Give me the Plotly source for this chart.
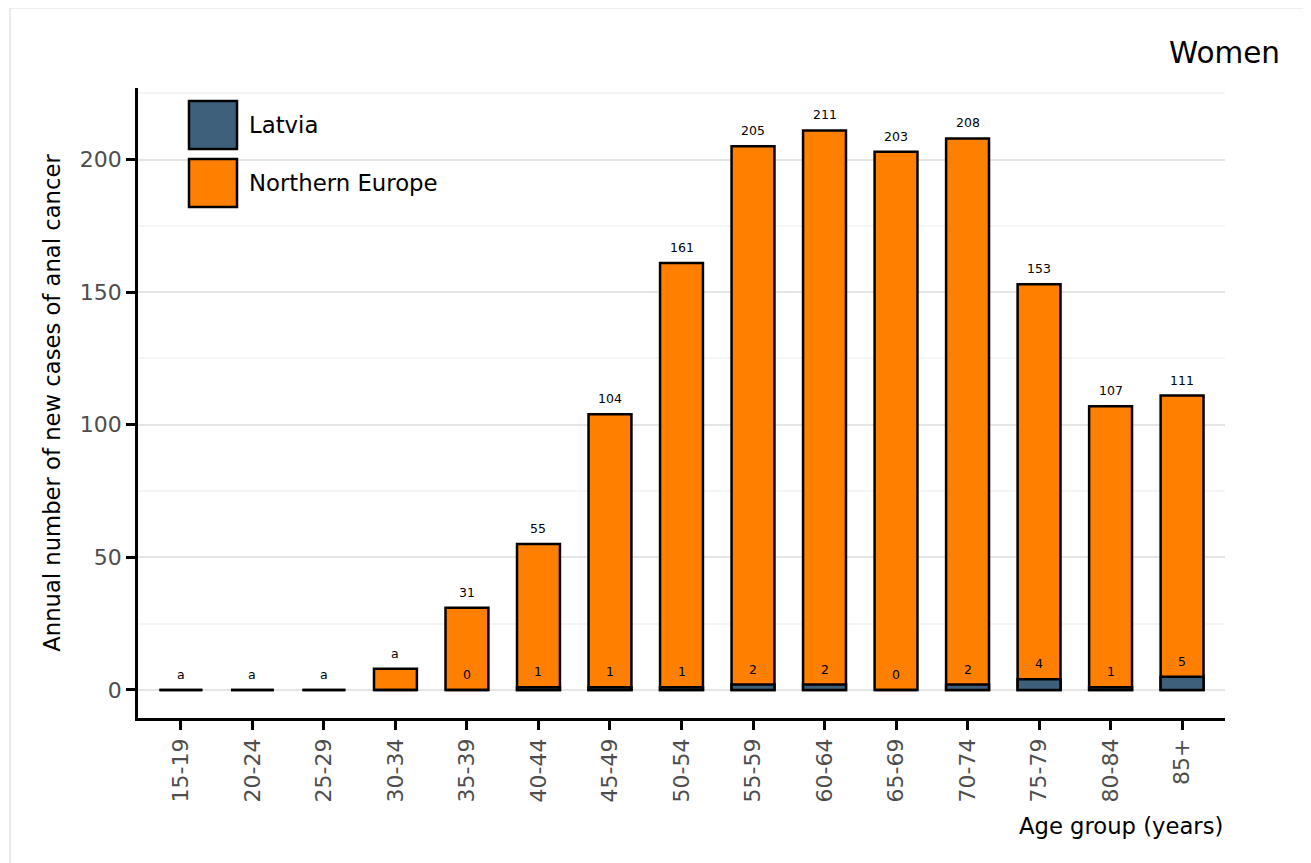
import plotly.graph_objects as go

age_groups = ["15-19", "20-24", "25-29", "30-34", "35-39", "40-44", "45-49", "50-54",
              "55-59", "60-64", "65-69", "70-74", "75-79", "80-84", "85+"]
northern_europe = [0, 0, 0, 8, 31, 55, 104, 161, 205, 211, 203, 208, 153, 107, 111]
northern_europe_labels = ["a", "a", "a", "a", "31", "55", "104", "161", "205", "211", "203", "208", "153", "107", "111"]
latvia = [0, 0, 0, 0, 0, 1, 1, 1, 2, 2, 0, 2, 4, 1, 5]
latvia_labels = ["", "", "", "", "0", "1", "1", "1", "2", "2", "0", "2", "4", "1", "5"]
series_names = ["Latvia", "Northern Europe"]
series_colors = ["#3e607b", "#ff7f00"]

FONT = "DejaVu Sans"
W, H = 1311, 863
ML, MT, PW, PH = 130, 80, 1087, 630
MR, MB = W - ML - PW, H - MT - PH


def px(x):
    return (x - ML) / PW


def py(y):
    return 1 - (y - MT) / PH


fig = go.Figure()
fig.add_trace(go.Bar(x=age_groups, y=northern_europe, name=series_names[1],
                     marker=dict(color=series_colors[1], line=dict(color="black", width=2.5)),
                     width=0.6, showlegend=False))
fig.add_trace(go.Bar(x=age_groups, y=latvia, name=series_names[0],
                     marker=dict(color=series_colors[0], line=dict(color="black", width=2.5)),
                     width=0.6, showlegend=False))

annotations = []
for xg, v, t in zip(age_groups, northern_europe, northern_europe_labels):
    if t:
        annotations.append(dict(x=xg, y=v, text=t, showarrow=False, yanchor="bottom",
                                yshift=6, font=dict(family=FONT, size=12.5, color="black")))
for xg, v, t in zip(age_groups, latvia, latvia_labels):
    if t:
        annotations.append(dict(x=xg, y=v, text=t, showarrow=False, yanchor="bottom",
                                yshift=6, font=dict(family=FONT, size=12.5, color="black")))

annotations.append(dict(xref="paper", yref="paper", x=px(1274), y=py(45),
                        text="Women", showarrow=False, xanchor="right", yanchor="middle",
                        font=dict(family=FONT, size=29.5, color="black")))
annotations.append(dict(xref="paper", yref="paper", x=1.0, y=py(818),
                        text="Age group (years)", showarrow=False, xanchor="right", yanchor="middle",
                        font=dict(family=FONT, size=22.7, color="black")))

shapes = [dict(type="rect", xref="paper", yref="paper",
               x0=px(2), x1=px(1330), y0=py(880), y1=py(0),
               line=dict(color="#dddddd", width=1.2), fillcolor="rgba(0,0,0,0)", layer="below")]

# custom legend with large swatches
legend_tops = [92, 150]
for name, col, top in zip(series_names, series_colors, legend_tops):
    shapes.append(dict(type="rect", xref="paper", yref="paper",
                       x0=px(181), x1=px(229), y0=py(top + 49), y1=py(top + 1),
                       line=dict(color="black", width=2.5), fillcolor=col))
    annotations.append(dict(xref="paper", yref="paper", x=px(239), y=py(top + 25),
                            text=name, showarrow=False, xanchor="left", yanchor="middle",
                            font=dict(family=FONT, size=22.8, color="black")))

fig.update_layout(
    width=W, height=H,
    margin=dict(l=ML, r=MR, t=MT, b=MB),
    barmode="overlay",
    plot_bgcolor="white", paper_bgcolor="white",
    font=dict(family=FONT, size=22, color="#4d4d4d"),
    showlegend=False,
    annotations=annotations,
    shapes=shapes,
)
fig.update_xaxes(range=[-0.6, 14.6], showline=True, linecolor="black", linewidth=2.5,
                 ticks="outside", ticklen=9, tickwidth=2.5, tickcolor="black",
                 tickangle=-90, tickfont=dict(family=FONT, size=22, color="#4d4d4d"),
                 showgrid=False, zeroline=False)
fig.update_yaxes(range=[-10.6, 227], showline=True, linecolor="black", linewidth=2.5,
                 ticks="outside", ticklen=9, tickwidth=2.5, tickcolor="black",
                 tickvals=[0, 50, 100, 150, 200],
                 tickfont=dict(family=FONT, size=22, color="#4d4d4d"),
                 showgrid=True, gridcolor="#e5e5e5", gridwidth=2,
                 minor=dict(tickvals=[25, 75, 125, 175, 225], showgrid=True,
                            gridcolor="#f5f5f5", gridwidth=1.5, ticks=""),
                 zeroline=False,
                 title=dict(text="Annual number of new cases of anal cancer",
                            font=dict(family=FONT, size=22.7, color="black"), standoff=13))

fig.write_html("out.html")
